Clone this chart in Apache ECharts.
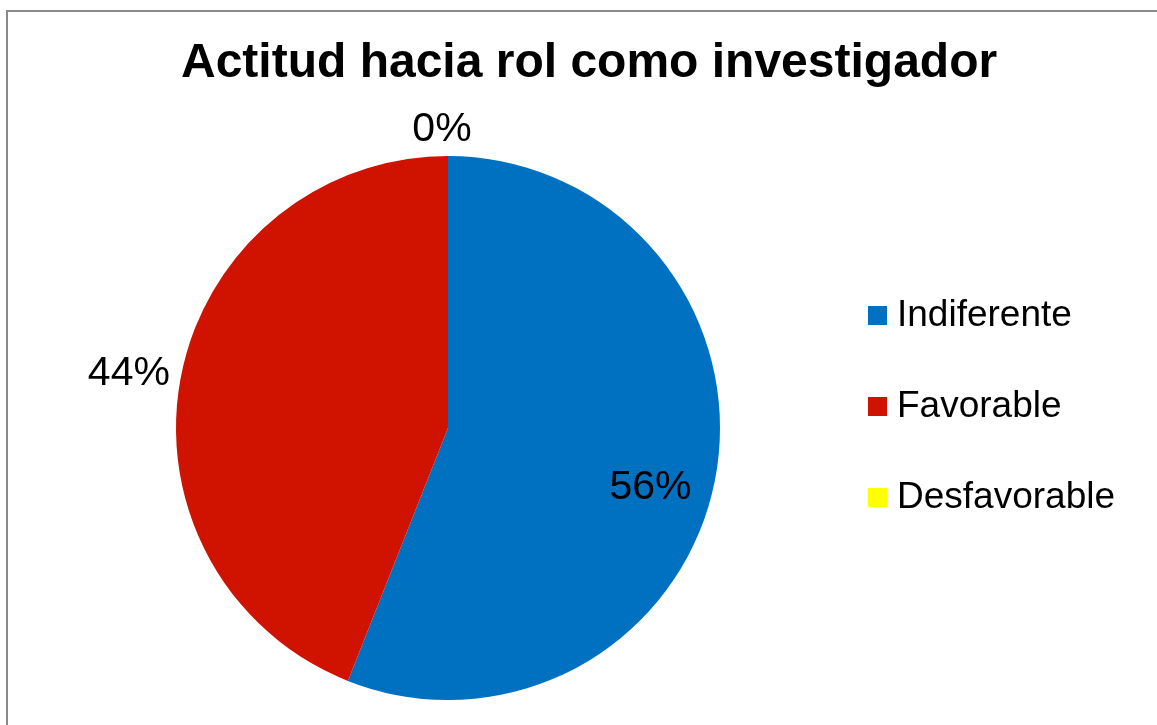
<!DOCTYPE html>
<html>
<head>
<meta charset="utf-8">
<script src="https://cdn.jsdelivr.net/npm/echarts@6/dist/echarts.min.js"></script>
<style>
html,body{margin:0;padding:0;background:#fff;overflow:hidden;}
#frame{position:absolute;left:6px;top:10px;width:1200px;height:800px;border-left:2px solid #8a8a8a;border-top:2px solid #8a8a8a;box-sizing:border-box;}
#chart{position:absolute;left:0;top:0;width:1157px;height:725px;}
</style>
</head>
<body>
<div id="frame"></div>
<div id="chart"></div>
<script>
const titleText = 'Actitud hacia rol como investigador';
const categories = ['Indiferente', 'Favorable', 'Desfavorable'];
const values = [56, 44, 0];
const colors = ['#0070C0', '#D01200', '#FFFF00'];
const labelPositions = ['inside', 'outside', 'outside'];

const chart = echarts.init(document.getElementById('chart'), null, {renderer: 'canvas'});
const font = '"Liberation Sans", Arial, sans-serif';

chart.setOption({
  animation: false,
  backgroundColor: 'transparent',
  title: {
    text: titleText,
    left: 181,
    top: 40,
    padding: 0,
    textStyle: {fontFamily: font, fontSize: 48, fontWeight: 'bold', color: '#000'}
  },
  legend: {
    orient: 'vertical',
    left: 868,
    top: 297,
    padding: 0,
    itemWidth: 19,
    itemHeight: 19,
    itemGap: 54,
    icon: 'rect',
    data: categories,
    textStyle: {fontFamily: font, fontSize: 37, color: '#000', lineHeight: 37, padding: [0, 0, 0, 5]}
  },
  series: [{
    type: 'pie',
    center: [448, 428],
    radius: 272,
    startAngle: 90,
    clockwise: true,
    avoidLabelOverlap: false,
    itemStyle: {borderWidth: 0},
    emphasis: {disabled: true},
    label: {
      show: true,
      formatter: p => p.value + '%',
      fontFamily: font,
      fontSize: 41,
      color: '#000'
    },
    labelLine: {show: false, length: 6, length2: 0},
    labelLayout: function (p) {
      if (p.dataIndex === 0) return {dx: 66, dy: 34};
      if (p.dataIndex === 1) return {dy: -2};
      if (p.dataIndex === 2) return {align: 'center', dx: -1, dy: -20};
      return {};
    },
    data: categories.map((c, i) => ({
      name: c,
      value: values[i],
      itemStyle: {color: colors[i]},
      label: {position: labelPositions[i]}
    }))
  }]
});
</script>
</body>
</html>
